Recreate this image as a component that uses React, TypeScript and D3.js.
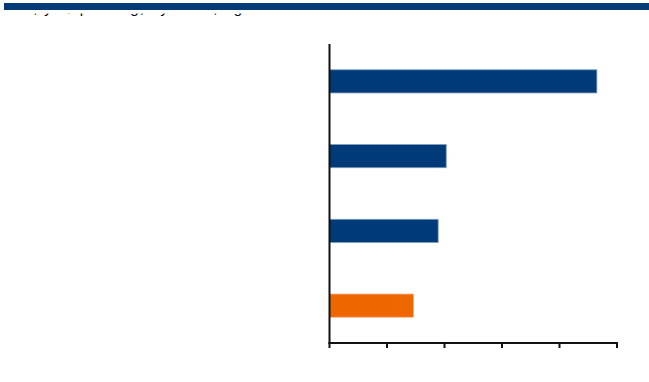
import React from "react";
import * as d3 from "d3";

const categories = ["A", "B", "C", "D"];
const values = [46.5, 20.3, 18.9, 14.6];
const highlight = [false, false, false, true];
const xTicks = [0, 10, 20, 30, 40, 50];
const titleText = "Net, yr $ per bag, by 2015, ag";

const W = 649;
const H = 382;

export default function App() {
  const left = 329.5;
  const right = 617;
  const top = 44;
  const bottom = 343;

  const x = d3.scaleLinear().domain([0, 50]).range([left, right]);
  const y = d3
    .scaleBand<string>()
    .domain(categories)
    .range([top, bottom])
    .paddingInner(0.69)
    .paddingOuter(0.345);

  return (
    <svg
      width={W}
      height={H}
      style={{ position: "fixed", left: 0, top: 0, background: "#fff" }}
      fontFamily="Liberation Sans, Arial, sans-serif"
    >
      <defs>
        <clipPath id="titleClip">
          <rect x={0} y={13.6} width={W} height={10} />
        </clipPath>
      </defs>
      <text x={6} y={13.3} fontSize={15} letterSpacing={1.3} fill="#000" clipPath="url(#titleClip)">
        {titleText}
      </text>
      <rect x={4} y={3} width={W - 4} height={7} fill="#003A78" />

      {categories.map((c, i) => (
        <rect
          key={c}
          x={x(0)}
          y={y(c)!}
          width={x(values[i]) - x(0)}
          height={y.bandwidth()}
          fill={highlight[i] ? "#EE6600" : "#003A78"}
          stroke={highlight[i] ? "#F6B07A" : "#7F9CC0"}
          strokeWidth={0.8}
        />
      ))}

      <line x1={left} x2={left} y1={top} y2={bottom + 1} stroke="#111" strokeWidth={2} />
      <line x1={left - 1} x2={right + 1} y1={bottom} y2={bottom} stroke="#111" strokeWidth={2} />
      {xTicks.map((t) => (
        <line key={t} x1={x(t)} x2={x(t)} y1={bottom} y2={bottom + 5} stroke="#111" strokeWidth={2} />
      ))}
    </svg>
  );
}
